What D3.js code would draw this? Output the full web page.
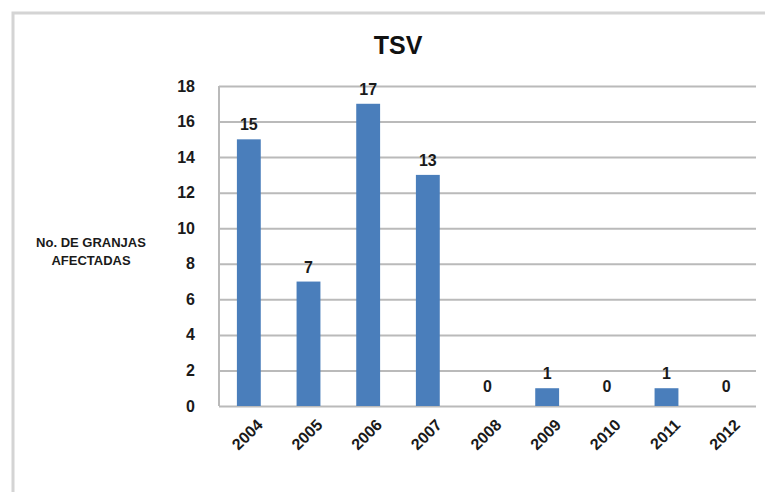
<!DOCTYPE html>
<head>
  <meta charset="utf-8">
  <script src="https://d3js.org/d3.v7.min.js"></script>
  <style>
    body { margin: 0; background: #fff; }
    svg { width: 765px; height: 492px; display: block; font-family: "Liberation Sans", Arial, sans-serif; }
  </style>
</head>
<body>
  <svg></svg>
  <script>
    var years = ['2004', '2005', '2006', '2007', '2008', '2009', '2010', '2011', '2012'];
    var granjas = [15, 7, 17, 13, 0, 1, 0, 1, 0];
    var yTicks = [0, 2, 4, 6, 8, 10, 12, 14, 16, 18];

    var svg = d3.select('svg');
    var plotLeft = 219, plotRight = 756, plotTop = 86, plotBottom = 406;

    // chart frame (only top and left edges fall inside the picture)
    svg.append('path')
      .attr('d', 'M13,492 L13,13 L765,13')
      .attr('fill', 'none')
      .attr('stroke', '#d4d4d4')
      .attr('stroke-width', 3);

    var x = d3.scaleBand().domain(years).range([plotLeft, plotRight]).paddingInner(0.6).paddingOuter(0.3);
    var y = d3.scaleLinear().domain([0, 18]).range([plotBottom, plotTop]);

    // gridlines
    svg.append('g')
      .attr('transform', 'translate(' + plotLeft + ',0)')
      .call(d3.axisLeft(y).tickValues(yTicks).tickSize(-(plotRight - plotLeft)).tickFormat(''))
      .call(function(g) {
        g.select('.domain').remove();
        g.selectAll('line').attr('stroke', '#bababa').attr('stroke-width', 2);
      });

    // left axis line
    svg.append('line')
      .attr('x1', plotLeft).attr('x2', plotLeft).attr('y1', plotTop).attr('y2', plotBottom)
      .attr('stroke', '#bababa').attr('stroke-width', 2);

    // y tick labels
    svg.append('g')
      .selectAll('text')
      .data(yTicks).enter().append('text')
      .attr('x', 195)
      .attr('y', function(d) { return y(d); })
      .attr('dy', '0.35em')
      .attr('text-anchor', 'end')
      .attr('font-size', 16)
      .attr('font-weight', 'bold')
      .attr('fill', '#1a1a1a')
      .text(function(d) { return d; });

    // bars
    svg.append('g')
      .selectAll('rect')
      .data(granjas).enter().append('rect')
      .attr('x', function(d, i) { return x(years[i]); })
      .attr('width', x.bandwidth())
      .attr('y', function(d) { return y(d); })
      .attr('height', function(d) { return plotBottom - y(d); })
      .attr('fill', '#4a7ebb');

    // data labels
    svg.append('g')
      .selectAll('text')
      .data(granjas).enter().append('text')
      .attr('x', function(d, i) { return x(years[i]) + x.bandwidth() / 2; })
      .attr('y', function(d) { return y(d) - (d === 0 ? 14 : 9); })
      .attr('text-anchor', 'middle')
      .attr('font-size', 16)
      .attr('font-weight', 'bold')
      .attr('fill', '#1a1a1a')
      .text(function(d) { return d; });

    // x labels, rotated
    svg.append('g')
      .selectAll('text')
      .data(years).enter().append('text')
      .attr('transform', function(d) {
        return 'translate(' + [x(d) + x.bandwidth() / 2 + 7, 418] + ')rotate(-45)';
      })
      .attr('text-anchor', 'end')
      .attr('dy', '0.7em')
      .attr('font-size', 16)
      .attr('font-weight', 'bold')
      .attr('fill', '#1a1a1a')
      .text(function(d) { return d; });

    // title
    svg.append('text')
      .attr('x', 398).attr('y', 54)
      .attr('text-anchor', 'middle')
      .attr('font-size', 25)
      .attr('font-weight', 'bold')
      .attr('fill', '#111')
      .text('TSV');

    // y axis title
    var yt = svg.append('text')
      .attr('text-anchor', 'middle')
      .attr('font-size', 13)
      .attr('font-weight', 'bold')
      .attr('fill', '#1a1a1a');
    yt.append('tspan').attr('x', 91).attr('y', 247).text('No. DE GRANJAS');
    yt.append('tspan').attr('x', 91).attr('y', 265).text('AFECTADAS');
  </script>
</body>
